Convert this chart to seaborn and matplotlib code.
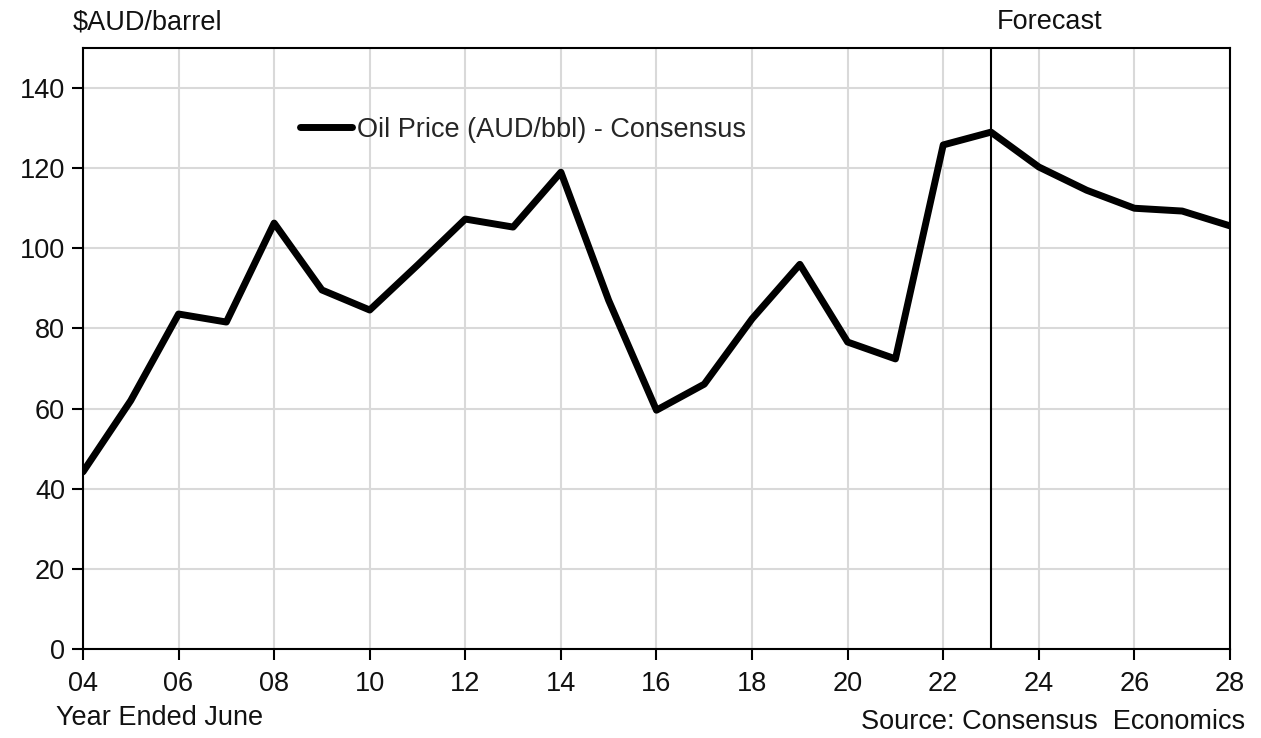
import matplotlib
matplotlib.use("Agg")
import matplotlib.pyplot as plt
import seaborn as sns
import pandas as pd

years = list(range(2004, 2029))
oil_price = [44.2, 62.0, 83.6, 81.6, 106.3, 89.6, 84.6, 95.8, 107.3, 105.3,
             119.0, 87.0, 59.6, 66.1, 82.4, 96.0, 76.6, 72.4, 125.8, 129.0,
             120.3, 114.5, 110.0, 109.3, 105.6]
series_label = "Oil Price (AUD/bbl) - Consensus"
forecast_start = 2023
y_ticks = [0, 20, 40, 60, 80, 100, 120, 140]
x_ticks = list(range(2004, 2029, 2))
x_ticklabels = [f"{y % 100:02d}" for y in x_ticks]

df = pd.DataFrame({"year": years, "price": oil_price})

sns.set_theme(style="white")
plt.rcParams["font.family"] = ["Liberation Sans", "DejaVu Sans"]

FS = 19.5
TXT = "#111111"

fig = plt.figure(figsize=(12.61, 7.38), dpi=100)
ax = fig.add_axes([0.0658, 0.1206, 0.9096, 0.8144])

sns.lineplot(data=df, x="year", y="price", ax=ax, color="black",
             linewidth=5, label=series_label, zorder=3)

ax.axvline(forecast_start, color="black", linewidth=1.5, zorder=2)

ax.set_xlim(2004, 2028)
ax.set_ylim(0, 150)
ax.set_xticks(x_ticks)
ax.set_xticklabels(x_ticklabels)
ax.set_yticks(y_ticks)
ax.grid(True, color="#d9d9d9", linewidth=1.5, zorder=0)
ax.set_axisbelow(True)

for sp in ax.spines.values():
    sp.set_color("black")
    sp.set_linewidth(1.5)

ax.tick_params(axis="both", which="major", direction="out", length=8,
               width=1.5, color="black", labelsize=FS, labelcolor=TXT,
               bottom=True, left=True)
ax.tick_params(axis="x", pad=8)
ax.tick_params(axis="y", pad=5)
ax.set_xlabel("")
ax.set_ylabel("")

leg = ax.legend(loc="center left", bbox_to_anchor=(0.189, 0.8636), frameon=False,
                fontsize=FS, handlelength=1.93, handletextpad=0.18,
                borderaxespad=0, borderpad=0)
for line in leg.get_lines():
    line.set_linewidth(5)

fig.text(73 / 1261, 1 - 22 / 738, "$AUD/barrel", ha="left", va="center",
         fontsize=FS, color=TXT)
fig.text(1050 / 1261, 1 - 22 / 738, "Forecast", ha="center", va="center",
         fontsize=FS, color=TXT)
fig.text(56 / 1261, 1 - 718 / 738, "Year Ended June", ha="left", va="center",
         fontsize=FS, color=TXT)
fig.text(1245 / 1261, 1 - 722 / 738, "Source: Consensus  Economics", ha="right",
         va="center", fontsize=FS, color=TXT)

fig.savefig("out.png", dpi=100, facecolor="white")
